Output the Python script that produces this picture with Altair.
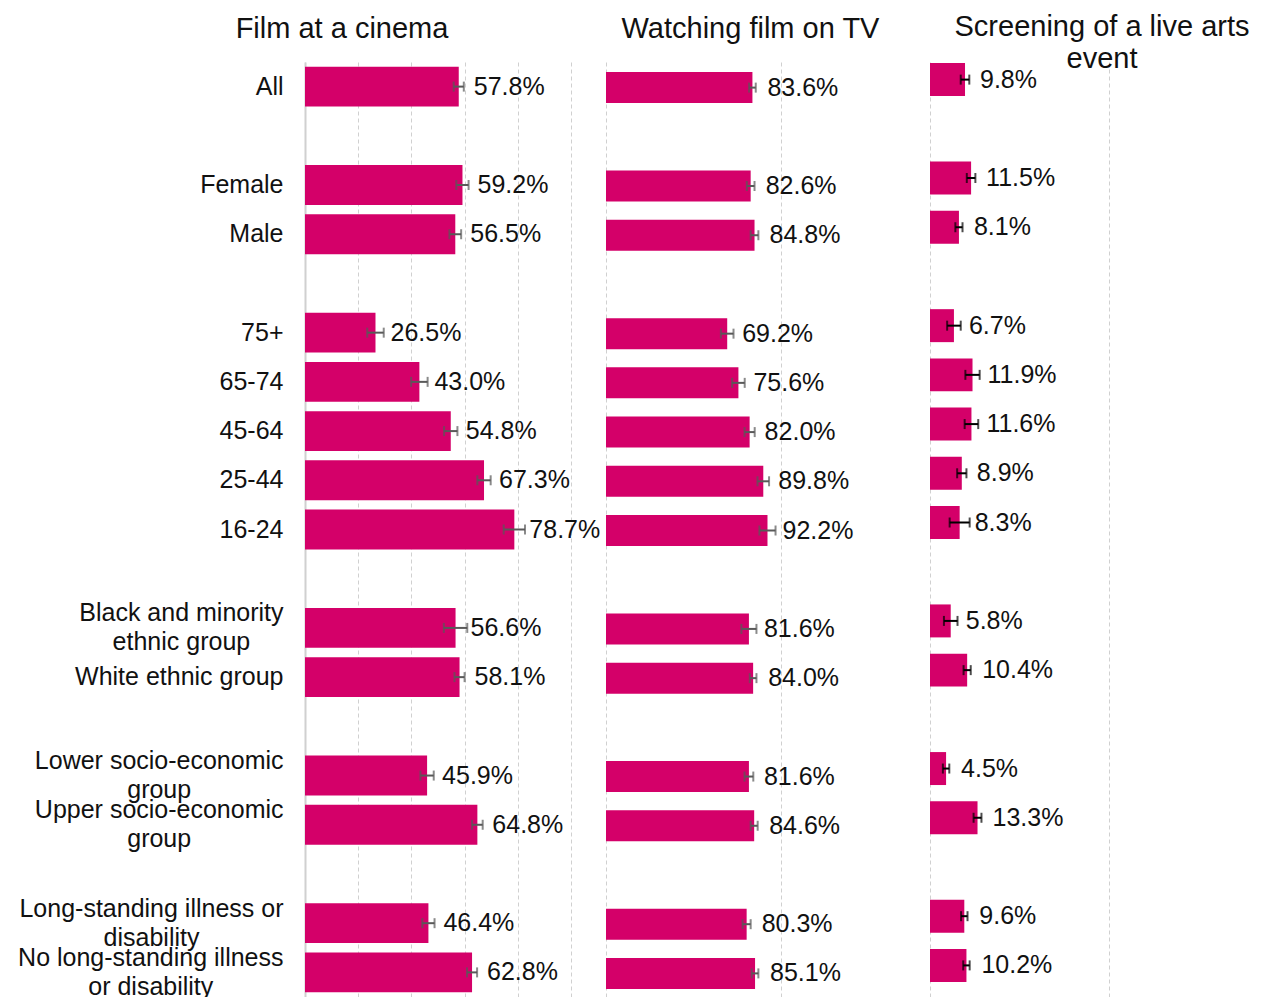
import altair as alt
import pandas as pd

# Row order (blank "gap" rows separate the groups)
categories = [
    "All", "gap1", "Female", "Male", "gap2",
    "75+", "65-74", "45-64", "25-44", "16-24", "gap3",
    "Black and minority|ethnic group", "White ethnic group", "gap4",
    "Lower socio-economic|group", "Upper socio-economic|group", "gap5",
    "Long-standing illness or|disability", "No long-standing illness|or disability",
]
groups = [c for c in categories if not c.startswith("gap")]

cinema = [57.8, 59.2, 56.5, 26.5, 43.0, 54.8, 67.3, 78.7, 56.6, 58.1, 45.9, 64.8, 46.4, 62.8]
cinema_err = [1.9, 2.3, 2.2, 3.1, 3.1, 2.5, 2.5, 4.0, 4.4, 1.9, 2.5, 2.0, 2.3, 1.9]

tv = [83.6, 82.6, 84.8, 69.2, 75.6, 82.0, 89.8, 92.2, 81.6, 84.0, 81.6, 84.6, 80.3, 85.1]
tv_err = [1.9, 2.2, 2.2, 3.6, 3.6, 2.9, 3.3, 4.6, 4.3, 1.9, 2.5, 2.0, 2.3, 1.9]

live = [9.8, 11.5, 8.1, 6.7, 11.9, 11.6, 8.9, 8.3, 5.8, 10.4, 4.5, 13.3, 9.6, 10.2]
live_err = [1.2, 1.2, 1.0, 1.9, 2.0, 1.9, 1.3, 2.8, 1.9, 1.0, 0.9, 1.1, 0.9, 0.9]

titles = ["Film at a cinema", "Watching film on TV", ["Screening of a live arts", "event"]]

FONT = "Liberation Sans"
BAR = "#D40069"
H = 935
LABEL_SIZE = 25
VALUE_SIZE = 25
TITLE_SIZE = 29
LINE_H = 29
LABEL_PAD = 22

# Approximate Arial/Liberation Sans advance widths (em) to centre wrapped label lines
_W = {' ': .278, '-': .333, 'a': .556, 'b': .556, 'c': .5, 'd': .556, 'e': .556,
      'g': .556, 'h': .556, 'i': .222, 'k': .5, 'l': .222, 'm': .833, 'n': .556,
      'o': .556, 'p': .556, 'r': .333, 's': .5, 't': .278, 'u': .556, 'w': .722,
      'y': .5, 'B': .667, 'L': .556, 'N': .722, 'U': .722}


def text_w(s, size):
    return sum(_W.get(ch, .556) for ch in s) * size


multi = [c for c in categories if "|" in c]
is_multi = "indexof(datum.value, '|') >= 0"
label_pad = {
    "condition": [
        {"test": f"datum.value == '{c}'",
         "value": round(LABEL_PAD + max(text_w(l, LABEL_SIZE) for l in c.split("|")) / 2, 1)}
        for c in multi
    ],
    "value": LABEL_PAD,
}
label_align = {"condition": {"test": is_multi, "value": "center"}, "value": "right"}
label_offset = {"condition": {"test": is_multi, "value": -LINE_H / 2}, "value": 0}


def panel(values, errs, title, xmax, width, ticks, pad, err_color, show_y,
          title_dx, title_offset, shift):
    df = pd.DataFrame({"cat": groups, "v": values, "e": errs})
    base = alt.Chart(df).transform_calculate(
        lo="datum.v - datum.e",
        hi="datum.v + datum.e",
        label="format(datum.v, '.1f') + '%'",
    )
    if show_y:
        yaxis = alt.Axis(
            title=None, ticks=False, domain=True, domainColor="#d0d0d0",
            domainWidth=2, labelFont=FONT, labelFontSize=LABEL_SIZE, labelColor="#111",
            labelLineHeight=LINE_H, labelPadding=label_pad, labelAlign=label_align,
            labelOffset=label_offset, labelLimit=500,
            labelExpr="indexof(datum.label, 'gap') == 0 ? '' : split(datum.label, '|')",
        )
    else:
        yaxis = None
    y = alt.Y("cat:N", sort=categories,
              scale=alt.Scale(domain=categories, paddingInner=pad, paddingOuter=pad / 2),
              axis=yaxis)
    xscale = alt.Scale(domain=[0, xmax], nice=False, zero=True)
    xaxis = alt.Axis(values=ticks, grid=True, gridDash=[4, 3], gridColor="#d0d0d0",
                     gridWidth=1, labels=False, ticks=False, domain=False, title=None)

    bars = base.mark_bar(color=BAR, yOffset=shift).encode(
        x=alt.X("v:Q", scale=xscale, axis=xaxis), y=y)
    rule = base.mark_rule(color=err_color, strokeWidth=2, yOffset=shift).encode(
        x="lo:Q", x2="hi:Q", y=y)
    tick_lo = base.mark_tick(color=err_color, thickness=2, size=10, orient="vertical",
                             yOffset=shift).encode(x="lo:Q", y=y)
    tick_hi = base.mark_tick(color=err_color, thickness=2, size=10, orient="vertical",
                             yOffset=shift).encode(x="hi:Q", y=y)
    text = base.mark_text(align="left", baseline="middle", dx=15, dy=shift, font=FONT,
                          fontSize=VALUE_SIZE, color="#111").encode(
        x="v:Q", y=y, text="label:N")
    return alt.layer(bars, rule, tick_lo, tick_hi, text).properties(
        width=width, height=H,
        title=alt.TitleParams(
            text=title, font=FONT, fontSize=TITLE_SIZE, fontWeight="normal", color="#111",
            anchor="middle", frame="group", dx=title_dx, offset=title_offset,
            baseline="bottom", lineHeight=32,
        ),
    )


p1 = panel(cinema, cinema_err, titles[0], 100, 266, [0, 20, 40, 60, 80, 100], 0.19,
           "#595959", True, -96, -11, 0)
p2 = panel(tv, tv_err, titles[1], 165, 289, [0, 100], 0.37, "#595959", False, 0, -11, 1)
p3 = panel(live, live_err, titles[2], 89, 318, [0, 50], 0.33, "#000000", False, 13, -41, -7)

chart = alt.hconcat(p1, p2, p3, spacing=35, bounds="flush").properties(
    padding={"left": 9, "top": 5, "right": 2, "bottom": 2}
).configure(font=FONT).configure_view(stroke=None)

chart.save("out.html", embed_options={"renderer": "svg", "actions": False})
